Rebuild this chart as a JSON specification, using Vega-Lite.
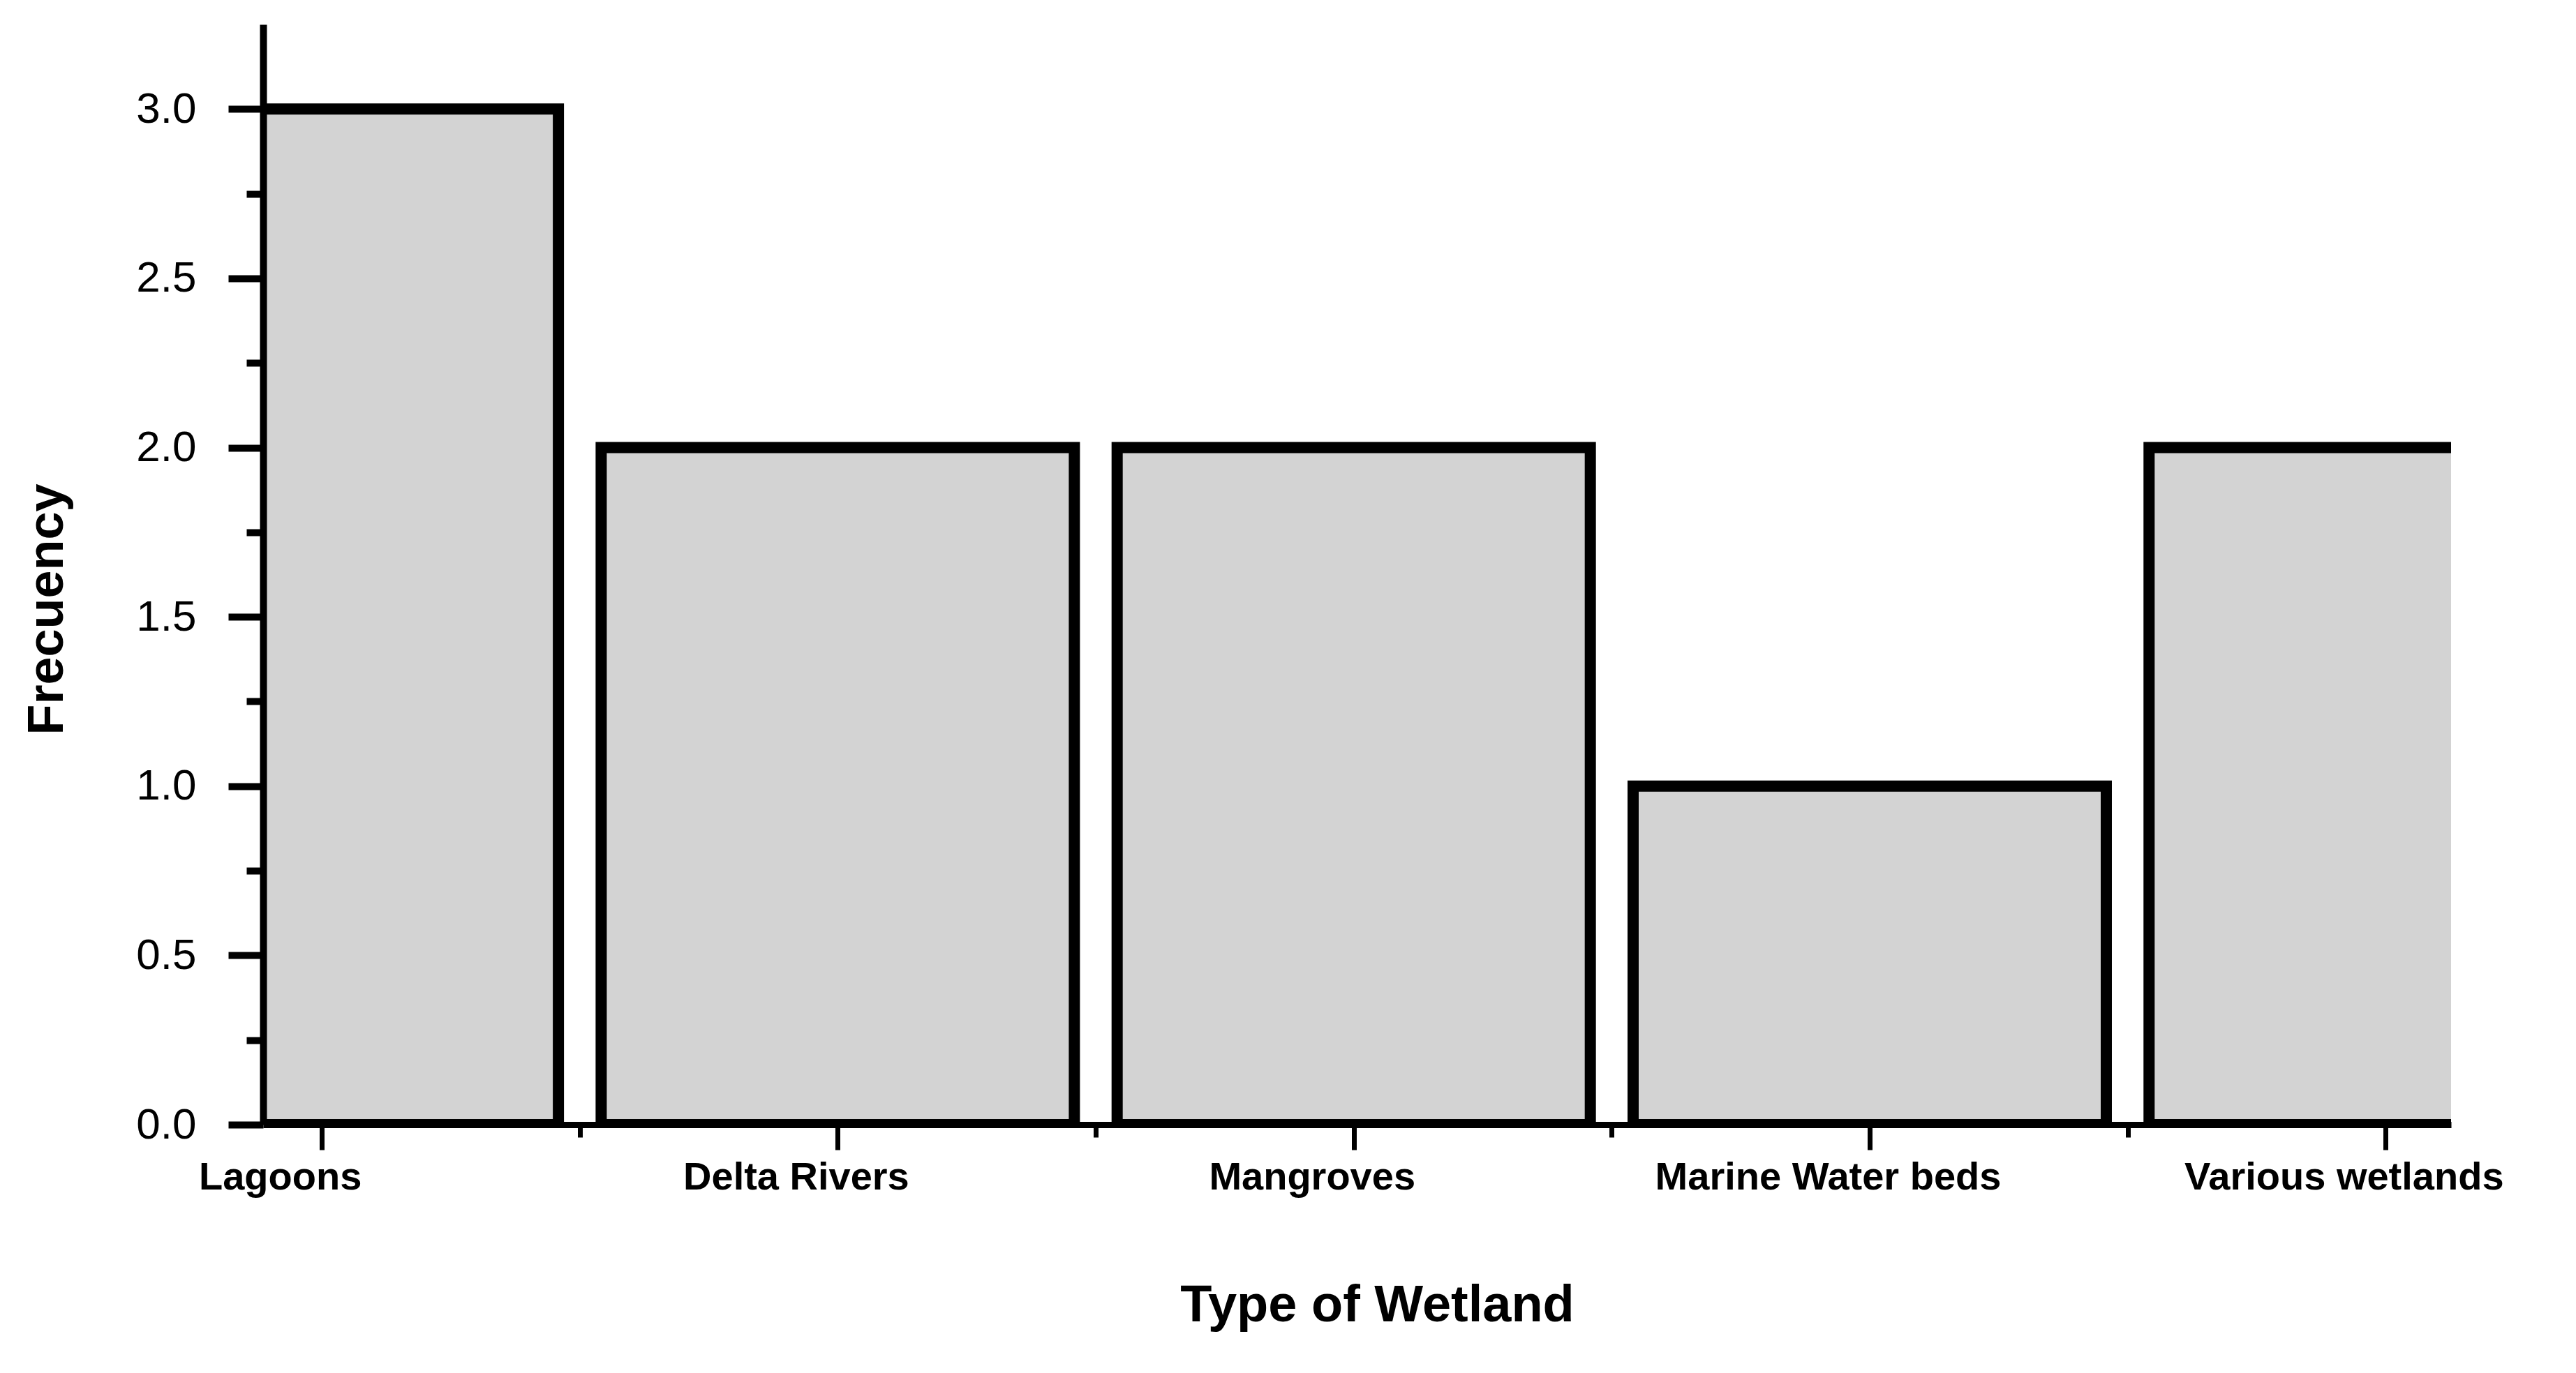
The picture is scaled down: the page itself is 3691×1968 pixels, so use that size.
{
  "$schema": "https://vega.github.io/schema/vega-lite/v6.json",
  "autosize": "none",
  "width": 3135,
  "height": 1577,
  "padding": {"left": 377, "top": 35, "right": 179, "bottom": 356},
  "background": "white",
  "config": {"view": {"stroke": null}},
  "data": {
    "values": [
      {"type": "Lagoons", "idx": 0, "frequency": 3},
      {"type": "Delta Rivers", "idx": 1, "frequency": 2},
      {"type": "Mangroves", "idx": 2, "frequency": 2},
      {"type": "Marine Water beds", "idx": 3, "frequency": 1},
      {"type": "Various wetlands", "idx": 4, "frequency": 2}
    ]
  },
  "mark": {
    "type": "bar",
    "orient": "vertical",
    "size": 678,
    "clip": true,
    "fill": "#d3d3d3",
    "stroke": "black",
    "strokeWidth": 16,
    "strokeJoin": "miter"
  },
  "encoding": {
    "x": {
      "field": "idx",
      "type": "quantitative",
      "scale": {"domain": [-0.107, 4.12], "nice": false, "zero": false},
      "axis": {
        "zindex": 1,
        "values": [0, 0.5, 1, 1.5, 2, 2.5, 3, 3.5, 4],
        "labelExpr": "datum.value % 1 == 0 ? ['Lagoons','Delta Rivers','Mangroves','Marine Water beds','Various wetlands'][datum.value] : ''",
        "grid": false,
        "domainColor": "black",
        "domainWidth": 9,
        "tickColor": "black",
        "tickWidth": 7,
        "tickSize": {"condition": {"test": "datum.value % 1 == 0", "value": 36}, "value": 18},
        "labelFont": "Liberation Sans",
        "labelFontSize": 56,
        "labelFontWeight": "bold",
        "labelColor": "black",
        "labelPadding": 12,
        "labelOffset": -60,
        "labelLimit": 0,
        "labelOverlap": false,
        "labelBound": false,
        "labelFlush": false,
        "labelBaseline": "top",
        "title": "Type of Wetland",
        "titleFont": "Liberation Sans",
        "titleFontSize": 74,
        "titleFontWeight": "bold",
        "titleColor": "black",
        "titlePadding": 120,
        "titleX": 1596
      }
    },
    "y": {
      "field": "frequency",
      "type": "quantitative",
      "stack": null,
      "scale": {"domain": [0, 3.25], "nice": false},
      "axis": {
        "zindex": 1,
        "values": [0, 0.25, 0.5, 0.75, 1, 1.25, 1.5, 1.75, 2, 2.25, 2.5, 2.75, 3],
        "labelExpr": "datum.value % 0.5 == 0 ? format(datum.value, '.1f') : ''",
        "grid": false,
        "domainColor": "black",
        "domainWidth": 10,
        "tickColor": "black",
        "tickWidth": 10,
        "tickSize": {"condition": {"test": "datum.value % 0.5 == 0", "value": 50}, "value": 24},
        "labelFont": "Liberation Sans",
        "labelFontSize": 62,
        "labelColor": "black",
        "labelPadding": 46,
        "labelOverlap": false,
        "labelBound": false,
        "labelFlush": false,
        "title": "Frecuency",
        "titleFont": "Liberation Sans",
        "titleFontSize": 72,
        "titleFontWeight": "bold",
        "titleColor": "black",
        "titlePadding": 90,
        "titleY": 838
      }
    }
  }
}
